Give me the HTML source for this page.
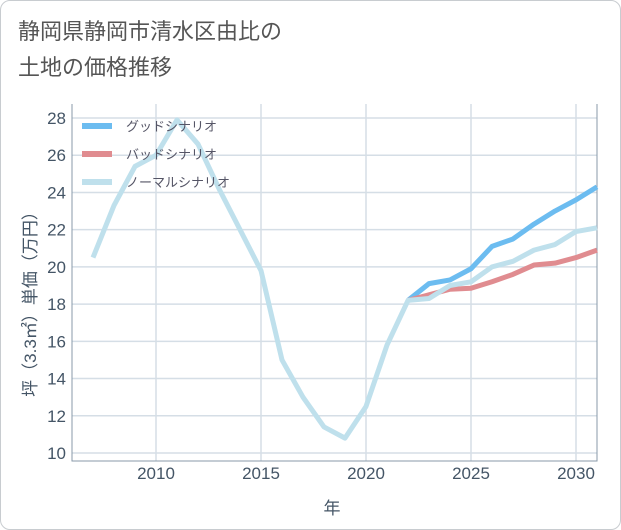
<!DOCTYPE html>
<html><head><meta charset="utf-8"><style>
body{margin:0;background:#fff;}
.wrap{position:absolute;left:0;top:0;width:619px;height:528px;border:1px solid #c8ccd0;border-radius:10px;background:#fff;}
.title{position:absolute;left:18px;top:14px;font:22px "Liberation Sans","Noto Sans CJK JP",sans-serif;color:#555;line-height:36px;}
svg text{font-family:"Liberation Sans","Noto Sans CJK JP",sans-serif;}
</style></head><body>
<div class="wrap"></div>
<div class="title">静岡県静岡市清水区由比の<br>土地の価格推移</div>
<svg id="c" width="621" height="530" style="position:absolute;left:0;top:0"></svg>
<script>
const years=[2007,2008,2009,2010,2011,2012,2013,2014,2015,2016,2017,2018,2019,2020,2021,2022,2023,2024,2025,2026,2027,2028,2029,2030,2031];
const normalVals=[20.5,23.3,25.4,26.0,27.9,26.6,24.2,22.0,19.8,15.0,13.0,11.4,10.8,12.5,15.8,18.2,18.3,19.0,19.2,20.0,20.3,20.9,21.2,21.9,22.1];
const futureYears=[2022,2023,2024,2025,2026,2027,2028,2029,2030,2031];
const goodVals=[18.2,19.1,19.3,19.9,21.1,21.5,22.3,23.0,23.6,24.3];
const badVals=[18.2,18.5,18.8,18.85,19.2,19.6,20.1,20.2,20.5,20.9];
const yTicks=[10,12,14,16,18,20,22,24,26,28];
const xTicks=[2010,2015,2020,2025,2030];
const L=72,R=597,T=104,B=461;
const X=v=>156+(v-2010)*21, Y=v=>453-(v-10)*(335/18);
const s=document.getElementById('c'),NS='http://www.w3.org/2000/svg';
function el(t,a,txt){const e=document.createElementNS(NS,t);for(const k in a)e.setAttribute(k,a[k]);if(txt!=null)e.textContent=txt;s.appendChild(e);return e;}
yTicks.forEach(v=>{
 const g=el('line',{x1:L,x2:R,y1:Y(v),y2:Y(v),stroke:'#d5dee6','stroke-width':1.5});
 
 
 const t=el('text',{x:66,y:Y(v)+6,'text-anchor':'end','font-size':17,fill:'#445566'},v);
 
 
});
xTicks.forEach(v=>{
 const g=el('line',{x1:X(v),x2:X(v),y1:T,y2:B,stroke:'#d5dee6','stroke-width':1.5});
 
 
 const t=el('text',{x:X(v),y:479,'text-anchor':'middle','font-size':17,fill:'#445566'},v);
 
 
});
const ax=el('path',{d:`M${L} ${T}V${B}H${R}V${T}`,fill:'none',stroke:'#8899aa','stroke-width':1});


function line(xs,ys,c,n){const p=el('polyline',{points:xs.map((x,i)=>X(x)+','+Y(ys[i])).join(' '),fill:'none',stroke:c,'stroke-width':5,'stroke-linejoin':'round'});
 
 }
line(futureYears,goodVals,'#6cbcf0','good-scenario-line');
line(futureYears,badVals,'#e08c90','bad-scenario-line');
line(years,normalVals,'#bfe0ec','normal-scenario-line');
[['グッドシナリオ','#6cbcf0'],['バッドシナリオ','#e08c90'],['ノーマルシナリオ','#bfe0ec']].forEach((d,i)=>{
 const y=126+i*28;
 const l=el('line',{x1:82,x2:112,y1:y,y2:y,stroke:d[1],'stroke-width':6});
 
 
 const t=el('text',{x:126,y:y+5,'font-size':13,fill:'#556'},d[0]);
 
 
});
const xt=el('text',{x:332,y:514,'text-anchor':'middle','font-size':17,fill:'#445566'},'年');


const yt=el('text',{x:0,y:0,'text-anchor':'middle','font-size':17,fill:'#445566',transform:'translate(36,300) rotate(-90)'},'坪（3.3㎡）単価（万円）');


</script>
</body></html>
